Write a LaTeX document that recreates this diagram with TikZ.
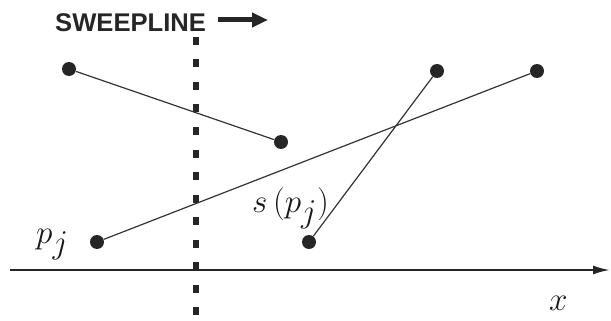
\documentclass[tikz,border=0pt]{standalone}
\usepackage{fontspec}
\usepackage{graphicx}
\setsansfont{Liberation Sans}
\usetikzlibrary{arrows.meta}
\newcommand{\bigmath}[1]{\scalebox{1.6}{$#1$}}
\tikzstyle{endpoint} = [circle, fill=black!85, draw=none, inner sep=0pt, minimum size=14pt]
\tikzstyle{segment} = [line width=1.2pt, draw=black!80]
\tikzstyle{mathtext} = [inner sep=0pt, anchor=base west, text=black!90, font=\fontsize{20}{20}\selectfont]
\tikzstyle{sweep} = [line width=6pt, black!85, dash pattern=on 8pt off 14.5pt]
\tikzstyle{axis} = [line width=2pt, black!85, -{Latex[length=17pt, width=9pt]}]
\tikzstyle{arrow} = [line width=5pt, black!85, -{Triangle[length=16pt, width=14pt]}]

\begin{document}
\begin{tikzpicture}[x=1pt, y=-1pt]
	\useasboundingbox (0, 0) rectangle (611, 321);
	
	\node(sweeptitle) at (55, 32) [anchor=base west, inner sep=0pt, text=black!85, font=\sffamily\bfseries\fontsize{25.6}{25.6}\selectfont] {SWEEPLINE};
	\coordinate(dirstart) at (218, 20);
	\coordinate(dirend) at (268, 20);
	\coordinate(sweeptop) at (196, 37);
	\coordinate(sweepbot) at (196, 321);
	\coordinate(axisstart) at (10, 270);
	\coordinate(axisend) at (610, 270);
	
	\node(a1) at (69, 69) [endpoint] {};
	\node(a2) at (281, 142) [endpoint] {};
	\node(b1) at (97, 242) [endpoint] {};
	\node(b2) at (537, 71) [endpoint] {};
	\node(c1) at (309, 242) [endpoint] {};
	\node(c2) at (437, 71) [endpoint] {};
	
	\node(pjlabel) at (36, 243) [mathtext] {\bigmath{p_{\textstyle j}}};
	\node(spjlabel) at (252, 212) [mathtext] {\bigmath{s\,(p_{\textstyle j})}};
	\node(xlabel) at (549, 310) [mathtext] {\bigmath{x}};
	
	\draw [axis] (axisstart) -- (axisend);
	\draw [sweep] (sweeptop) -- (sweepbot);
	\draw [segment] (a1) -- (a2);
	\draw [segment] (b1) -- (b2);
	\draw [segment] (c1) -- (c2);
	\draw [arrow] (dirstart) -- (dirend);
\end{tikzpicture}
\end{document}
